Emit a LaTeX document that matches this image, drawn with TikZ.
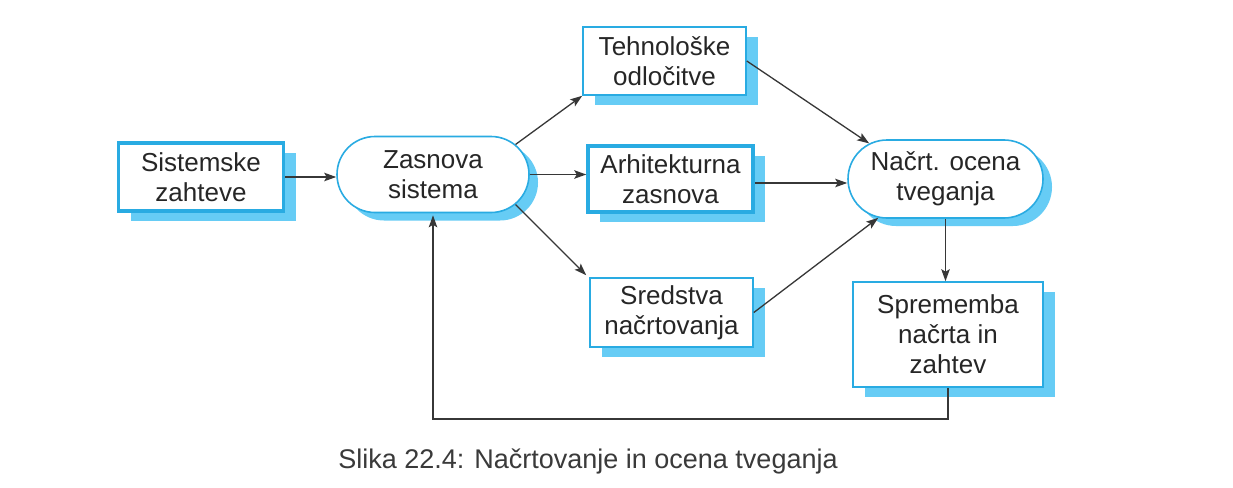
\documentclass[tikz,border=0pt]{standalone}
\usepackage{fontspec}
\setmainfont{Liberation Sans}
\usetikzlibrary{arrows.meta,shapes.misc,shadows,calc}
\definecolor{bordc}{RGB}{41,171,226}
\definecolor{shadc}{RGB}{102,204,245}
\definecolor{linec}{RGB}{55,55,55}
\definecolor{capc}{RGB}{58,58,58}
\tikzset{
  boxbase/.style={draw=bordc, fill=white, align=center, inner sep=0pt,
    font=\fontsize{26}{30}\selectfont, text=black!85},
  thinbox/.style={boxbase, rectangle, line width=1.6pt,
    general shadow={fill=shadc, shadow xshift=12pt, shadow yshift=-10pt}},
  thickbox/.style={boxbase, rectangle, line width=3.5pt,
    general shadow={fill=shadc, shadow xshift=12pt, shadow yshift=-10pt}},
  pill/.style={boxbase, rounded rectangle, line width=1.6pt,
    general shadow={fill=shadc, shadow xshift=9pt, shadow yshift=-8pt}},
  conn/.style={draw=linec, line width=1.3pt,
    -{Stealth[length=12pt,width=8.5pt,inset=2.5pt]}}
}
\begin{document}
\begin{tikzpicture}[x=1pt,y=-1pt]
\useasboundingbox (0,0) rectangle (1233,487);
\fill[white] (0,0) rectangle (1233,487);

\node[thickbox, minimum width=165pt, minimum height=68pt] (sz) at (201,177) {Sistemske\\zahteve};
\node[pill, minimum width=192pt, minimum height=76pt] (zs) at (433,174.5) {Zasnova\\sistema};
\node[thinbox, minimum width=163pt, minimum height=68pt] (te) at (664.5,61) {Tehnološke\\odločitve};
\node[thickbox, minimum width=165pt, minimum height=66pt] (ar) at (670.5,179) {Arhitekturna\\zasnova};
\node[thinbox, minimum width=163pt, minimum height=69pt] (sr) at (671.5,312.5) {Sredstva\\načrtovanja};
\node[pill, minimum width=195pt, minimum height=78pt] (nc) at (945.5,179) {Načrt. ocena\\tveganja};
\node[thinbox, minimum width=190pt, minimum height=105pt] (sp) at (948,334.5) {Sprememba\\načrta in\\zahtev};

\coordinate (r1) at (948,419);
\coordinate (r2) at (433,419);

\draw[conn] (sz.east) -- (sz.east -| zs.west);
\draw[conn] (zs.20) -- (te.south west);
\draw[conn] (zs.east) -- (zs.east -| ar.west);
\draw[conn] (zs.-20) -- ([xshift=-3pt,yshift=2pt]sr.north west);
\draw[conn] (te.east) -- (nc.155);
\draw[conn] ([yshift=-4pt]ar.east) -- ([yshift=-4pt]ar.east -| nc.west);
\draw[conn] (sr.east) -- (nc.210);
\draw[conn] (nc.south) -- (nc.south |- sp.north);
\draw[conn] (sp.south) -- (r1) -- (r2) -- ([yshift=-2pt]zs.south);

\node[font=\fontsize{27}{32}\selectfont, text=capc, inner sep=0pt] (cap) at (588,461) {Slika 22.4: Načrtovanje in ocena tveganja};
\end{tikzpicture}
\end{document}
